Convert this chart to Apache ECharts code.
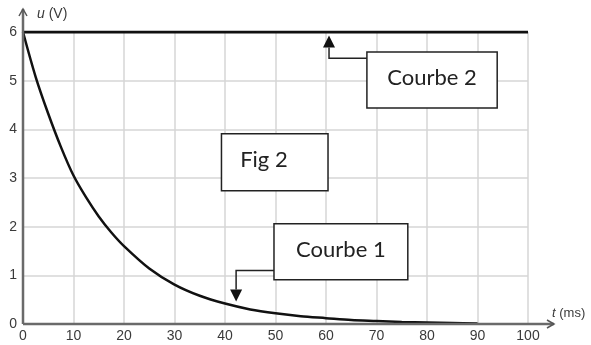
<!DOCTYPE html>
<html>
<head>
<meta charset="utf-8">
<script src="https://cdn.jsdelivr.net/npm/echarts@6/dist/echarts.min.js"></script>
<style>
  html, body { margin: 0; padding: 0; background: #fff; }
  #chart { width: 591px; height: 345px; }
</style>
</head>
<body>
<div id="chart"></div>
<script>
// Discharge curve u(t) (Courbe 1) and constant supply voltage (Courbe 2)
const tCourbe1 = [0, 2.5, 5, 7.5, 10, 12.5, 15, 17.5, 20, 25, 30, 35, 40, 45, 50, 55, 60, 65, 70, 75, 80, 85, 90];
const uCourbe1 = [6.00, 5.08, 4.32, 3.64, 3.05, 2.60, 2.21, 1.88, 1.60, 1.14, 0.81, 0.58, 0.42, 0.30, 0.22, 0.16, 0.12, 0.08, 0.06, 0.04, 0.03, 0.02, 0.01];
const tCourbe2 = [0, 100];
const uCourbe2 = [6, 6];

const xTicks = [0, 10, 20, 30, 40, 50, 60, 70, 80, 90, 100];
const yTicks = [0, 1, 2, 3, 4, 5, 6];

// Callout boxes in data coordinates: [tLeft, tRight], [uTop, uBottom]
const callouts = [
  { text: 'Courbe 2', t: [68.1, 93.9], u: [5.59, 4.44], link: { fromU: 5.46, toT: 60.6, toU: 5.93 } },
  { text: 'Courbe 1', t: [49.7, 76.2], u: [2.06, 0.91], link: { fromU: 1.10, toT: 42.2, toU: 0.46 } },
  { text: 'Fig 2',    t: [39.3, 60.4], u: [3.91, 2.74], link: null, textT: 47.7 }
];

const chart = echarts.init(document.getElementById('chart'), null, { renderer: 'canvas' });

const labelFont = { color: '#3a3a3a', fontSize: 14, fontFamily: '"Liberation Sans Narrow", "Liberation Sans", Arial, sans-serif' };
const nameFont = { color: '#3a3a3a', fontSize: 13, fontFamily: '"Liberation Sans", Arial, sans-serif' };

chart.setOption({
  animation: false,
  backgroundColor: '#ffffff',
  grid: { left: 23, right: 63, top: 32, bottom: 21, containLabel: false },
  xAxis: {
    type: 'value',
    min: xTicks[0], max: xTicks[xTicks.length - 1], interval: 10,
    axisLine: { show: false },
    axisTick: { show: false },
    axisLabel: Object.assign({ margin: 5 }, labelFont),
    splitLine: { show: true, lineStyle: { color: '#d6d6d6', width: 1.5 } },
    name: '{i|t} (ms)',
    nameLocation: 'end',
    nameGap: 24,
    nameTextStyle: Object.assign({
      align: 'left', verticalAlign: 'bottom', padding: [0, 0, 4, 0],
      rich: { i: { fontStyle: 'italic', fontSize: 13, color: '#3a3a3a' } }
    }, nameFont)
  },
  yAxis: {
    type: 'value',
    min: yTicks[0], max: yTicks[yTicks.length - 1], interval: 1,
    axisLine: { show: false },
    axisTick: { show: false },
    axisLabel: Object.assign({ margin: 6 }, labelFont),
    splitLine: { show: true, lineStyle: { color: '#d6d6d6', width: 1.5 } },
    name: '{i|u} (V)',
    nameLocation: 'end',
    nameGap: 18,
    nameTextStyle: Object.assign({
      align: 'left', verticalAlign: 'middle', padding: [0, 0, 0, 14],
      rich: { i: { fontStyle: 'italic', fontSize: 14, color: '#3a3a3a' } }
    }, nameFont, { fontSize: 14 })
  },
  series: [
    {
      name: 'Courbe 1', type: 'line', smooth: 0.3, showSymbol: false,
      data: tCourbe1.map((t, i) => [t, uCourbe1[i]]),
      lineStyle: { color: '#111', width: 2.5 }, z: 4
    },
    {
      name: 'Courbe 2', type: 'line', showSymbol: false,
      data: tCourbe2.map((t, i) => [t, uCourbe2[i]]),
      lineStyle: { color: '#111', width: 3 }, z: 4
    }
  ]
});

// Axes with arrowheads and callouts, placed through the grid's coordinate system
function px(t, u) { return chart.convertToPixel({ gridIndex: 0 }, [t, u]); }

const g = [];
const origin = px(0, 0);
const xEnd = px(100, 0);
const yEnd = px(0, 6);
const axisStyle = { stroke: '#6a6a6a', lineWidth: 2.5 };
const xTip = [xEnd[0] + 26, xEnd[1]];
const yTip = [yEnd[0], yEnd[1] - 23];
g.push({ type: 'line', shape: { x1: origin[0], y1: origin[1], x2: xTip[0], y2: xTip[1] }, style: axisStyle, z: 10 });
g.push({ type: 'line', shape: { x1: origin[0], y1: origin[1], x2: yTip[0], y2: yTip[1] }, style: axisStyle, z: 10 });
g.push({ type: 'polyline', shape: { points: [[xTip[0] - 7, xTip[1] - 4], xTip, [xTip[0] - 7, xTip[1] + 4]] }, style: { stroke: '#555', lineWidth: 1.5, fill: null }, z: 10 });
g.push({ type: 'polyline', shape: { points: [[yTip[0] - 4, yTip[1] + 7], yTip, [yTip[0] + 4, yTip[1] + 7]] }, style: { stroke: '#555', lineWidth: 1.5, fill: null }, z: 10 });

callouts.forEach(c => {
  const a = px(c.t[0], c.u[0]);
  const b = px(c.t[1], c.u[1]);
  if (c.link) {
    const start = px(c.t[0], c.link.fromU);
    const tip = px(c.link.toT, c.link.toU);
    const up = tip[1] < start[1];
    const headLen = 12, headHalf = 6;
    const base = up ? tip[1] + headLen : tip[1] - headLen;
    g.push({ type: 'polyline', shape: { points: [[start[0], start[1]], [tip[0], start[1]], [tip[0], base]] },
             style: { stroke: '#222', lineWidth: 1.5, fill: null }, z: 11 });
    g.push({ type: 'polygon', shape: { points: [[tip[0] - headHalf, base], [tip[0] + headHalf, base], [tip[0], tip[1]]] },
             style: { fill: '#111' }, z: 11 });
  }
  g.push({ type: 'rect', shape: { x: a[0], y: a[1], width: b[0] - a[0], height: b[1] - a[1] },
           style: { fill: '#fff', stroke: '#222', lineWidth: 1.5 }, z: 12 });
  const cx = c.textT != null ? px(c.textT, 0)[0] : (a[0] + b[0]) / 2;
  g.push({ type: 'text', x: cx, y: (a[1] + b[1]) / 2 - 2,
           style: { text: c.text, fill: '#222', font: '22px Lato, "Open Sans", sans-serif', align: 'center', verticalAlign: 'middle' }, z: 13 });
});

chart.setOption({ graphic: g });
</script>
</body>
</html>
